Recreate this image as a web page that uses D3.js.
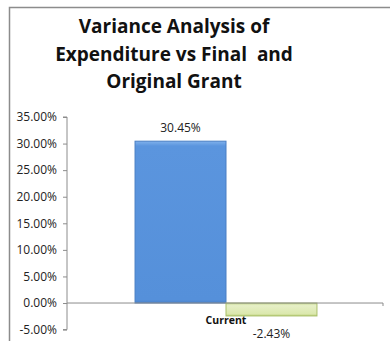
<!DOCTYPE html>
<html><head><meta charset="utf-8">
<script src="https://cdn.jsdelivr.net/npm/d3@7"></script>
<style>body{margin:0;background:#fff}svg{display:block}</style>
</head><body><svg id="c" width="390" height="341"></svg>
<script>
const titleLines = ["Variance Analysis of", "Expenditure vs Final  and", "Original Grant"];
const categories = ["Current"];
const seriesNames = ["Final Grant", "Original Grant"];
const seriesValues = [30.45, -2.43];
const tickValues = [-5, 0, 5, 10, 15, 20, 25, 30, 35];

const svg = d3.select("#c");
const font = "'Open Sans', Calibri, sans-serif";
const pct = d3.formatLocale({decimal:".",thousands:",",grouping:[3],currency:["","%"],minus:"-"}).format(".2f");
const fmt = d => pct(d) + "%";
const defs = svg.append("defs");
function grad(id, stops) {
  const g = defs.append("linearGradient").attr("id", id).attr("x1",0).attr("y1",0).attr("x2",0).attr("y2",1);
  stops.forEach(s => g.append("stop").attr("offset", s[0]).attr("stop-color", s[1]));
}
grad("gBlue", [[0,"#80b1ec"],[0.03,"#5b95de"],[0.98,"#5590da"],[1,"#4a80c8"]]);
grad("gGreen", [[0,"#c9db93"],[0.2,"#e6efc6"],[0.85,"#dbe8ad"],[1,"#b7cc73"]]);

// frame
svg.append("path").attr("d","M9.5,341 V7.5 H390").attr("fill","none").attr("stroke","#8c8c8c").attr("stroke-width",1.5);

// title
svg.append("text").attr("x",174).attr("y",33).attr("text-anchor","middle")
  .style("white-space","pre")
  .attr("font-family",font).attr("font-weight","bold").attr("font-size",19).attr("fill","#111")
  .selectAll("tspan").data(titleLines).join("tspan")
  .attr("x",174).attr("dy",(d,i)=> i===0?0:27.5).text(d=>d);

const y = d3.scaleLinear().domain([-5,35]).range([329.6,117]);
const x = d3.scaleBand().domain(categories).range([67,385]).paddingInner(0).paddingOuter(0.374);
const xs = d3.scaleBand().domain(seriesNames).range([x(categories[0]), x(categories[0])+x.bandwidth()]);

// y axis
const ya = svg.append("g").attr("transform","translate(67,0)")
  .call(d3.axisLeft(y).tickValues(tickValues).tickSize(4).tickPadding(6).tickFormat(fmt));
ya.selectAll("path,line").attr("stroke","#8c8c8c");
ya.select(".domain").attr("d",`M-4,${y(35)}H0V${y(-5)}H-4`);
ya.selectAll("text").attr("font-family",font).attr("font-size",12).attr("fill","#222");

// bars
const colors = ["url(#gBlue)","url(#gGreen)"];
const strokes = ["#4a7fc4","#a9bf6a"];
svg.append("g").selectAll("rect").data(seriesValues).join("rect")
  .attr("x",(d,i)=>xs(seriesNames[i]))
  .attr("width",xs.bandwidth())
  .attr("y",d=>y(Math.max(0,d)))
  .attr("height",d=>Math.abs(y(d)-y(0)))
  .attr("fill",(d,i)=>colors[i]).attr("stroke",(d,i)=>strokes[i]).attr("stroke-width",1);

// x axis (zero line)
const xa = svg.append("g").attr("transform",`translate(0,${y(0)})`)
  .call(d3.axisBottom(x).tickSize(0).tickFormat(""));
xa.select(".domain").attr("stroke","#8c8c8c").attr("d",`M67,0H383V3`);

// category label
svg.append("text").attr("x",x(categories[0])+x.bandwidth()/2).attr("y",324).attr("text-anchor","middle")
  .attr("font-family",font).attr("font-weight","bold").attr("font-size",10.5).attr("fill","#111").text(categories[0]);

// value labels
svg.append("g").selectAll("text").data(seriesValues).join("text")
  .attr("x",(d,i)=>xs(seriesNames[i])+xs.bandwidth()/2)
  .attr("y",d=> d>=0 ? y(d)-9 : y(d)+22)
  .attr("text-anchor","middle").attr("font-family",font).attr("font-size",12).attr("fill","#222")
  .text(fmt);
</script></body></html>
